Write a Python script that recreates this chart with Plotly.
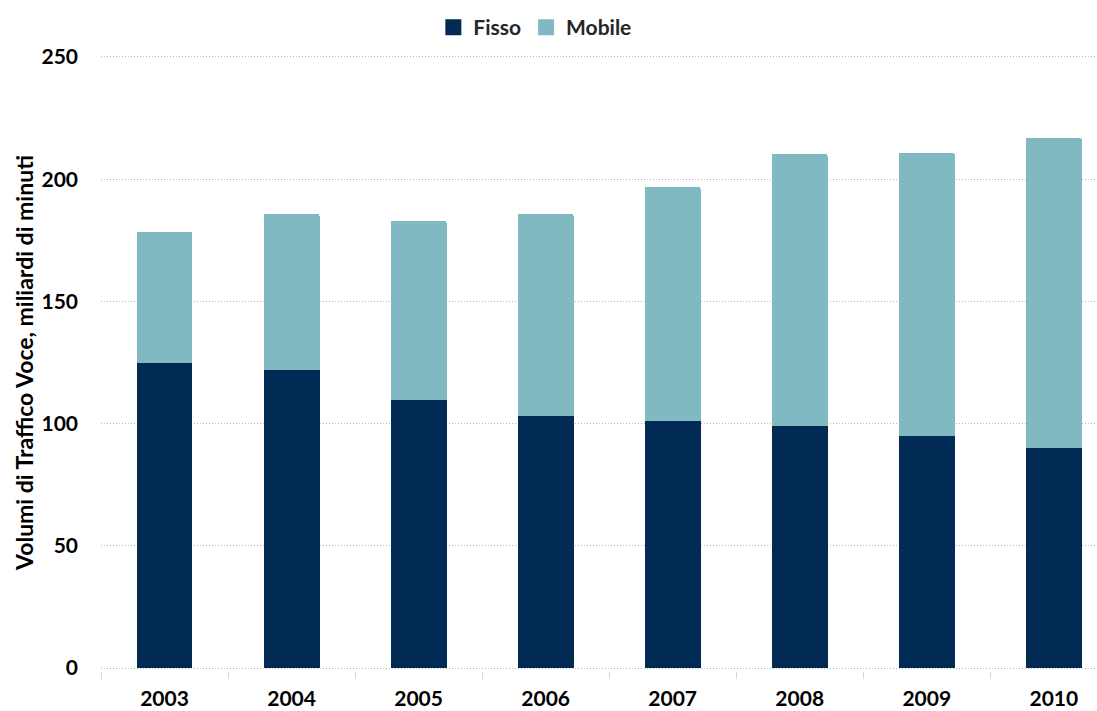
import plotly.graph_objects as go

# Volumi di traffico voce (miliardi di minuti)
anni = ["2003", "2004", "2005", "2006", "2007", "2008", "2009", "2010"]
fisso = [124.8, 121.9, 109.7, 103.1, 101.1, 99.0, 94.9, 90.0]
mobile = [53.6, 63.9, 73.2, 82.7, 95.7, 111.3, 115.8, 126.9]
y_ticks = [0, 50, 100, 150, 200, 250]

COL_FISSO = "#012A54"
COL_MOBILE = "#80B9C2"
FONT = "Lato, 'Open Sans', sans-serif"

fig = go.Figure()
for nome, valori, colore in (("Fisso", fisso, COL_FISSO), ("Mobile", mobile, COL_MOBILE)):
    fig.add_trace(go.Bar(
        x=anni, y=valori, name=nome, legendgroup=nome, showlegend=False,
        marker=dict(color=colore, line=dict(width=0)),
        width=0.44,
    ))

# legend entries with large square swatches
for nome, colore in (("Fisso", COL_FISSO), ("Mobile", COL_MOBILE)):
    fig.add_trace(go.Scatter(
        x=[None], y=[None], mode="markers", name=nome, legendgroup=nome,
        marker=dict(symbol="square", size=18, color=colore),
    ))

fig.update_layout(
    barmode="stack",
    barcornerradius=2,
    width=1097, height=711,
    margin=dict(l=101, r=0, t=54, b=40, autoexpand=False),
    plot_bgcolor="white",
    paper_bgcolor="white",
    font=dict(family=FONT, size=21, color="#000000"),
    showlegend=True,
    legend=dict(
        orientation="h",
        xref="container", x=0.488, xanchor="center",
        yref="container", y=0.99, yanchor="top",
        font=dict(family=FONT, size=21, color="#262626", weight="bold"),
        itemwidth=30,
        traceorder="normal",
        itemsizing="trace",
    ),
    xaxis=dict(
        type="category",
        range=[-0.5, 7.34],
        showgrid=False,
        showline=False,
        ticks="outside",
        ticklen=7,
        tickcolor="#D4D4D4",
        tickson="boundaries",
        tickfont=dict(family=FONT, size=21, color="#000000", weight="bold"),
        ticklabelstandoff=13,
        zeroline=False,
    ),
    yaxis=dict(
        range=[-1.2, 251.2],
        tickvals=y_ticks,
        showgrid=True,
        gridcolor="#B5B5B5",
        griddash="1px,2px",
        gridwidth=1,
        zeroline=False,
        showline=False,
        ticks="",
        tickfont=dict(family=FONT, size=21, color="#000000", weight="bold"),
        ticklabelstandoff=22,
        title=dict(
            text="Volumi di Traffico Voce, miliardi di minuti",
            font=dict(family=FONT, size=23, color="#000000", weight="bold"),
            standoff=1,
        ),
    ),
)

fig.write_html("out.html")
